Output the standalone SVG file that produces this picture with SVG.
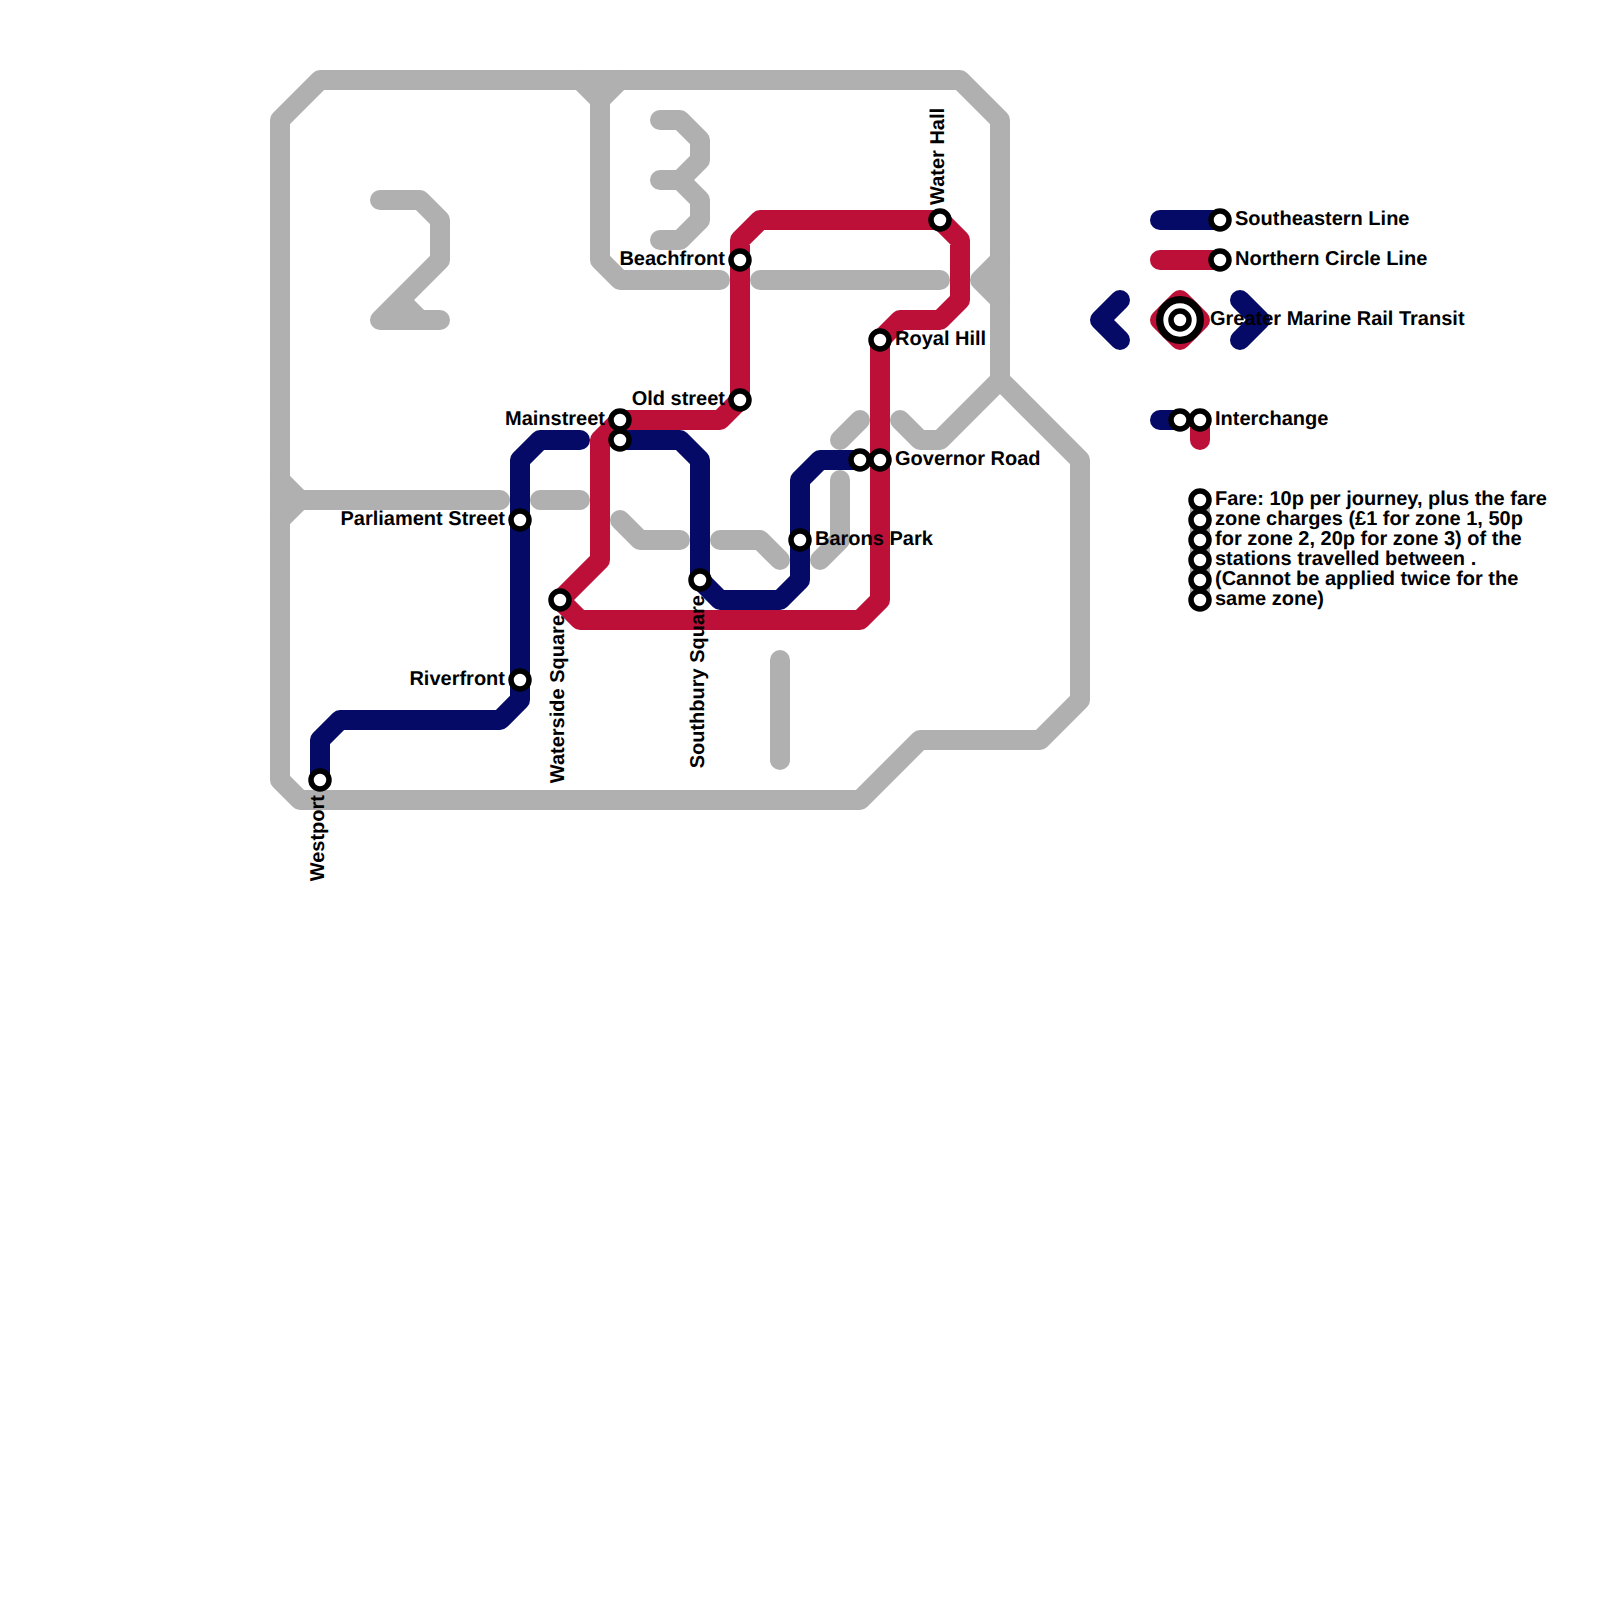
<svg xmlns="http://www.w3.org/2000/svg" width="1600" height="1600" viewBox="0 0 1600 1600">
<style>
.l{fill:none;stroke-width:20;stroke-linecap:round;stroke-linejoin:round}
.g{stroke:#b0b0b0}
.n{stroke:#050a66}
.r{stroke:#bc1038}
.s{fill:#fff;stroke:#000;stroke-width:5.5}
text{font-family:"Liberation Sans",Arial,sans-serif;font-weight:700;font-size:20px;fill:#000;text-rendering:geometricPrecision}
.e{text-anchor:end}
</style>
<defs><circle id="st" class="s" r="9"/></defs>
<rect width="1600" height="1600" fill="#fff"/>
<g id="connectors">
<g id="zones">
<path class="l g" d="M320 80H960L1000 120V380L1080 460V700L1040 740H920L860 800H300L280 780V120Z"/>
<path class="l g" d="M580 80L600 100M620 80L600 100V260L620 280H720"/>
<path class="l g" d="M760 280H940"/>
<path class="l g" d="M1000 260L980 280L1000 300"/>
<path class="l g" d="M280 480L300 500M280 520L300 500H500"/>
<path class="l g" d="M540 500H580"/>
<path class="l g" d="M620 520L640 540H680"/>
<path class="l g" d="M720 540H760L780 560"/>
<path class="l g" d="M820 560L840 540V480"/>
<path class="l g" d="M840 440L860 420"/>
<path class="l g" d="M900 420L920 440H940L1000 380"/>
<path class="l g" d="M780 660V760"/>
<path class="l g" d="M380 200H420L440 220V260L380 320H440M400 300L420 320"/>
<path class="l g" d="M660 120H680L700 140V160L680 180H660M680 180L700 200V220L680 240H660"/>
<path class="l g" d="M1200 500V600"/>
</g>
<path id="southeastern-a" class="l n" d="M320 780V740L340 720H500L520 700V460L540 440H580"/>
<path id="southeastern-b" class="l n" d="M620 440H680L700 460V580L720 600H780L800 580V480L820 460H860"/>
<path id="northern-circle" class="l r" d="M560 600L600 560V440L620 420H720L740 400V240L760 220H940L960 240V300L940 320H900L880 340V600L860 620H580Z"/>
<path class="l n" d="M1160 220H1220"/>
<path class="l r" d="M1160 260H1220"/>
<path class="l r" d="M1160 320L1180 300L1200 320L1180 340Z"/>
<path class="l n" d="M1120 300L1100 320L1120 340"/>
<path class="l n" d="M1240 300L1260 320L1240 340"/>
<path class="l n" d="M1160 420H1180"/>
<path class="l r" d="M1200 420V440"/>
</g>
<g id="westport"><use href="#st" x="320" y="780"/><text transform="translate(324.4 795) rotate(-90)" class="e">Westport</text></g>
<g id="riverfront"><use href="#st" x="520" y="680"/><text x="505" y="684.7" class="e">Riverfront</text></g>
<g id="parliament-street"><use href="#st" x="520" y="520"/><text x="505" y="524.7" class="e">Parliament Street</text></g>
<g id="waterside-square"><use href="#st" x="560" y="600"/><text transform="translate(564.4 615) rotate(-90)" class="e">Waterside Square</text></g>
<g id="mainstreet"><use href="#st" x="620" y="420"/><text x="605" y="424.7" class="e">Mainstreet</text></g>
<g id="mainstreet-interchange"><use href="#st" x="620" y="440"/></g>
<g id="southbury-square"><use href="#st" x="700" y="580"/><text transform="translate(704.4 595) rotate(-90)" class="e">Southbury Square</text></g>
<g id="old-street"><use href="#st" x="740" y="400"/><text x="725" y="404.7" class="e">Old street</text></g>
<g id="beachfront"><use href="#st" x="740" y="260"/><text x="725" y="264.7" class="e">Beachfront</text></g>
<g id="barons-park"><use href="#st" x="800" y="540"/><text x="815" y="544.7">Barons Park</text></g>
<g id="governor-interchange"><use href="#st" x="860" y="460"/></g>
<g id="governor-road"><use href="#st" x="880" y="460"/><text x="895" y="464.7">Governor Road</text></g>
<g id="royal-hill"><use href="#st" x="880" y="340"/><text x="895" y="344.7">Royal Hill</text></g>
<g id="water-hall"><use href="#st" x="940" y="220"/><text transform="translate(944.4 205) rotate(-90)">Water Hall</text></g>
<g id="legend-southeastern"><use href="#st" x="1220" y="220"/><text x="1235" y="224.7">Southeastern Line</text></g>
<g id="legend-northern"><use href="#st" x="1220" y="260"/><text x="1235" y="264.7">Northern Circle Line</text></g>
<g id="legend-network"><circle cx="1180" cy="320" r="20.3" fill="#fff" stroke="#000" stroke-width="7.3"/><use href="#st" x="1180" y="320"/><text x="1210" y="324.7">Greater Marine Rail Transit</text></g>
<g id="legend-interchange"><use href="#st" x="1180" y="420"/><use href="#st" x="1200" y="420"/><text x="1215" y="424.7">Interchange</text></g>
<g id="legend-fare">
<use href="#st" x="1200" y="500"/><use href="#st" x="1200" y="520"/><use href="#st" x="1200" y="540"/><use href="#st" x="1200" y="560"/><use href="#st" x="1200" y="580"/><use href="#st" x="1200" y="600"/>
<text x="1215" y="504.7">Fare: 10p per journey, plus the fare</text>
<text x="1215" y="524.7">zone charges (£1 for zone 1, 50p</text>
<text x="1215" y="544.7">for zone 2, 20p for zone 3) of the</text>
<text x="1215" y="564.7">stations travelled between .</text>
<text x="1215" y="584.7">(Cannot be applied twice for the</text>
<text x="1215" y="604.7">same zone)</text>
</g>
</svg>
